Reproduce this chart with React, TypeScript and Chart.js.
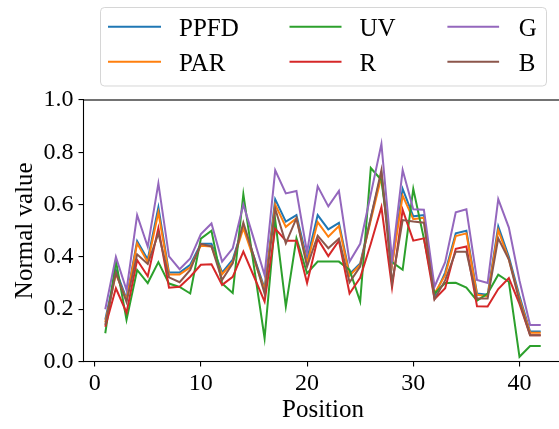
import React, { useEffect, useRef } from "react";
import { Chart, registerables } from "chart.js";
Chart.register(...registerables);

const positions = [1, 2, 3, 4, 5, 6, 7, 8, 9, 10, 11, 12, 13, 14, 15, 16, 17, 18, 19, 20, 21, 22, 23, 24, 25, 26, 27, 28, 29, 30, 31, 32, 33, 34, 35, 36, 37, 38, 39, 40, 41, 42];
const ppfd = [0.16, 0.35, 0.24, 0.46, 0.39, 0.59, 0.34, 0.34, 0.37, 0.45, 0.45, 0.34, 0.39, 0.52, 0.40, 0.28, 0.62, 0.535, 0.56, 0.39, 0.56, 0.505, 0.53, 0.335, 0.375, 0.55, 0.72, 0.37, 0.66, 0.555, 0.56, 0.25, 0.34, 0.49, 0.50, 0.26, 0.255, 0.517, 0.40, 0.25, 0.115, 0.115];
const par = [0.15, 0.335, 0.235, 0.452, 0.38, 0.57, 0.333, 0.333, 0.36, 0.443, 0.44, 0.333, 0.38, 0.51, 0.39, 0.273, 0.60, 0.515, 0.548, 0.375, 0.533, 0.477, 0.518, 0.328, 0.37, 0.54, 0.707, 0.369, 0.634, 0.544, 0.55, 0.26, 0.33, 0.48, 0.49, 0.255, 0.25, 0.502, 0.39, 0.24, 0.11, 0.11];
const uv = [0.108, 0.385, 0.159, 0.35, 0.30, 0.38, 0.298, 0.285, 0.26, 0.47, 0.50, 0.298, 0.262, 0.64, 0.363, 0.089, 0.541, 0.21, 0.471, 0.337, 0.382, 0.382, 0.382, 0.35, 0.229, 0.74, 0.694, 0.38, 0.351, 0.66, 0.47, 0.26, 0.30, 0.301, 0.283, 0.233, 0.26, 0.332, 0.305, 0.018, 0.059, 0.059];
const red = [0.133, 0.28, 0.187, 0.388, 0.326, 0.51, 0.282, 0.286, 0.324, 0.37, 0.372, 0.293, 0.324, 0.42, 0.325, 0.229, 0.508, 0.462, 0.462, 0.30, 0.469, 0.403, 0.462, 0.26, 0.32, 0.45, 0.59, 0.283, 0.58, 0.462, 0.471, 0.238, 0.28, 0.431, 0.44, 0.211, 0.21, 0.277, 0.319, 0.22, 0.10, 0.10];
const green = [0.20, 0.40, 0.273, 0.56, 0.439, 0.681, 0.402, 0.353, 0.394, 0.487, 0.528, 0.382, 0.433, 0.60, 0.467, 0.33, 0.731, 0.643, 0.652, 0.417, 0.67, 0.593, 0.652, 0.382, 0.45, 0.64, 0.832, 0.388, 0.732, 0.582, 0.58, 0.286, 0.38, 0.571, 0.582, 0.312, 0.30, 0.621, 0.512, 0.31, 0.14, 0.14];
const blue = [0.14, 0.34, 0.228, 0.41, 0.373, 0.49, 0.322, 0.303, 0.35, 0.45, 0.44, 0.312, 0.375, 0.531, 0.40, 0.26, 0.584, 0.452, 0.548, 0.363, 0.481, 0.433, 0.47, 0.303, 0.363, 0.55, 0.732, 0.30, 0.541, 0.535, 0.531, 0.238, 0.31, 0.42, 0.42, 0.241, 0.241, 0.471, 0.39, 0.23, 0.10, 0.10];

const seriesNames = ["PPFD", "PAR", "UV", "R", "G", "B"];
const seriesValues = [ppfd, par, uv, red, green, blue];
const seriesColors = ["#1f77b4", "#ff7f0e", "#2ca02c", "#d62728", "#9467bd", "#8c564b"];
const xTicks = [0, 10, 20, 30, 40];
const yTicks = [0, 0.2, 0.4, 0.6, 0.8, 1.0];
const xTitle = "Position";
const yTitle = "Normal value";

const FONT = "Liberation Serif";

const decorPlugin = {
  id: "decor",
  afterDraw(chart: any) {
    const { ctx, chartArea: a } = chart;
    ctx.save();
    ctx.strokeStyle = "#000";
    ctx.lineWidth = 1.1;
    ctx.strokeRect(a.left, a.top, a.right - a.left, a.bottom - a.top);
    ctx.fillStyle = "#000";
    ctx.font = `25px "${FONT}"`;
    ctx.textAlign = "center";
    ctx.textBaseline = "alphabetic";
    ctx.fillText(xTitle, 323, 416.5);
    ctx.save();
    ctx.translate(32, (a.top + a.bottom) / 2);
    ctx.rotate(-Math.PI / 2);
    ctx.fillText(yTitle, 0, 0);
    ctx.restore();
    ctx.beginPath();
    ctx.roundRect(100.5, 7.5, 446, 78.5, 4);
    ctx.fillStyle = "rgba(255,255,255,0.8)";
    ctx.fill();
    ctx.strokeStyle = "rgba(204,204,204,0.8)";
    ctx.lineWidth = 1;
    ctx.stroke();
    const cols = [
      { x0: 108, x1: 161, tx: 179 },
      { x0: 289.5, x1: 341.5, tx: 359.4 },
      { x0: 447.4, x1: 499.1, tx: 518.7 },
    ];
    const rowsY = [26.7, 61.7];
    ctx.font = `25px "${FONT}"`;
    ctx.textAlign = "left";
    ctx.textBaseline = "alphabetic";
    seriesNames.forEach((name, i) => {
      const c = cols[Math.floor(i / 2)];
      const y = rowsY[i % 2];
      ctx.strokeStyle = seriesColors[i];
      ctx.lineWidth = 2;
      ctx.beginPath();
      ctx.moveTo(c.x0, y);
      ctx.lineTo(c.x1, y);
      ctx.stroke();
      ctx.fillStyle = "#000";
      ctx.fillText(name, c.tx, y + 9);
    });
    ctx.restore();
  },
};

export default function App() {
  const ref = useRef<HTMLCanvasElement>(null);
  useEffect(() => {
    let chart: any = null;
    let cancelled = false;
    const build = () => {
      if (cancelled || !ref.current) return;
      chart = new Chart(ref.current, {
        type: "line",
        data: {
          datasets: seriesNames.map((name, i) => ({
            label: name,
            data: positions.map((p, k) => ({ x: p, y: seriesValues[i][k] })),
            borderColor: seriesColors[i],
            backgroundColor: seriesColors[i],
            borderWidth: 2,
            pointRadius: 0,
            tension: 0,
            fill: false,
            order: seriesNames.length - i,
          })),
        },
        options: {
          animation: false,
          responsive: false,
          devicePixelRatio: 1,
          layout: { padding: { top: 100, right: 7.5, left: 0, bottom: 0 } },
          plugins: { legend: { display: false }, tooltip: { enabled: false }, title: { display: false } },
          scales: {
            x: {
              type: "linear",
              min: -1.05,
              max: 44.05,
              afterBuildTicks: (s: any) => {
                s.ticks = xTicks.map((v) => ({ value: v }));
              },
              afterFit: (s: any) => {
                s.height = 67.5;
              },
              ticks: {
                callback: (v: any) => String(v),
                font: { family: `"${FONT}"`, size: 24 },
                color: "#000",
                padding: 3,
                maxRotation: 0,
                autoSkip: false,
              },
              grid: { drawOnChartArea: false, drawTicks: true, tickLength: 5, color: "#000", lineWidth: 1.1 },
              border: { display: false },
            },
            y: {
              type: "linear",
              min: 0,
              max: 1,
              afterBuildTicks: (s: any) => {
                s.ticks = yTicks.map((v) => ({ value: v }));
              },
              afterFit: (s: any) => {
                s.width = 83.5;
              },
              ticks: {
                callback: (v: any) => Number(v).toFixed(1),
                font: { family: `"${FONT}"`, size: 24 },
                color: "#000",
                padding: 5,
                autoSkip: false,
              },
              grid: { drawOnChartArea: false, drawTicks: true, tickLength: 5, color: "#000", lineWidth: 1.1 },
              border: { display: false },
            },
          },
        },
        plugins: [decorPlugin],
      });
    };
    const fontsApi: any = (document as any).fonts;
    if (fontsApi && fontsApi.load) {
      Promise.all([fontsApi.load(`24px "${FONT}"`), fontsApi.load(`25px "${FONT}"`)])
        .catch(() => null)
        .then(() => build());
    } else {
      build();
    }
    return () => {
      cancelled = true;
      if (chart) chart.destroy();
    };
  }, []);
  return (
    <div style={{ position: "absolute", left: 0, top: 0, width: 559, height: 429, overflow: "hidden", background: "#fff" }}>
      <span style={{ fontFamily: `"${FONT}"`, position: "absolute", left: -1000, top: 0 }}>PPFD 0.1</span>
      <canvas ref={ref} width={570} height={429} style={{ display: "block", width: 570, height: 429 }} />
    </div>
  );
}
